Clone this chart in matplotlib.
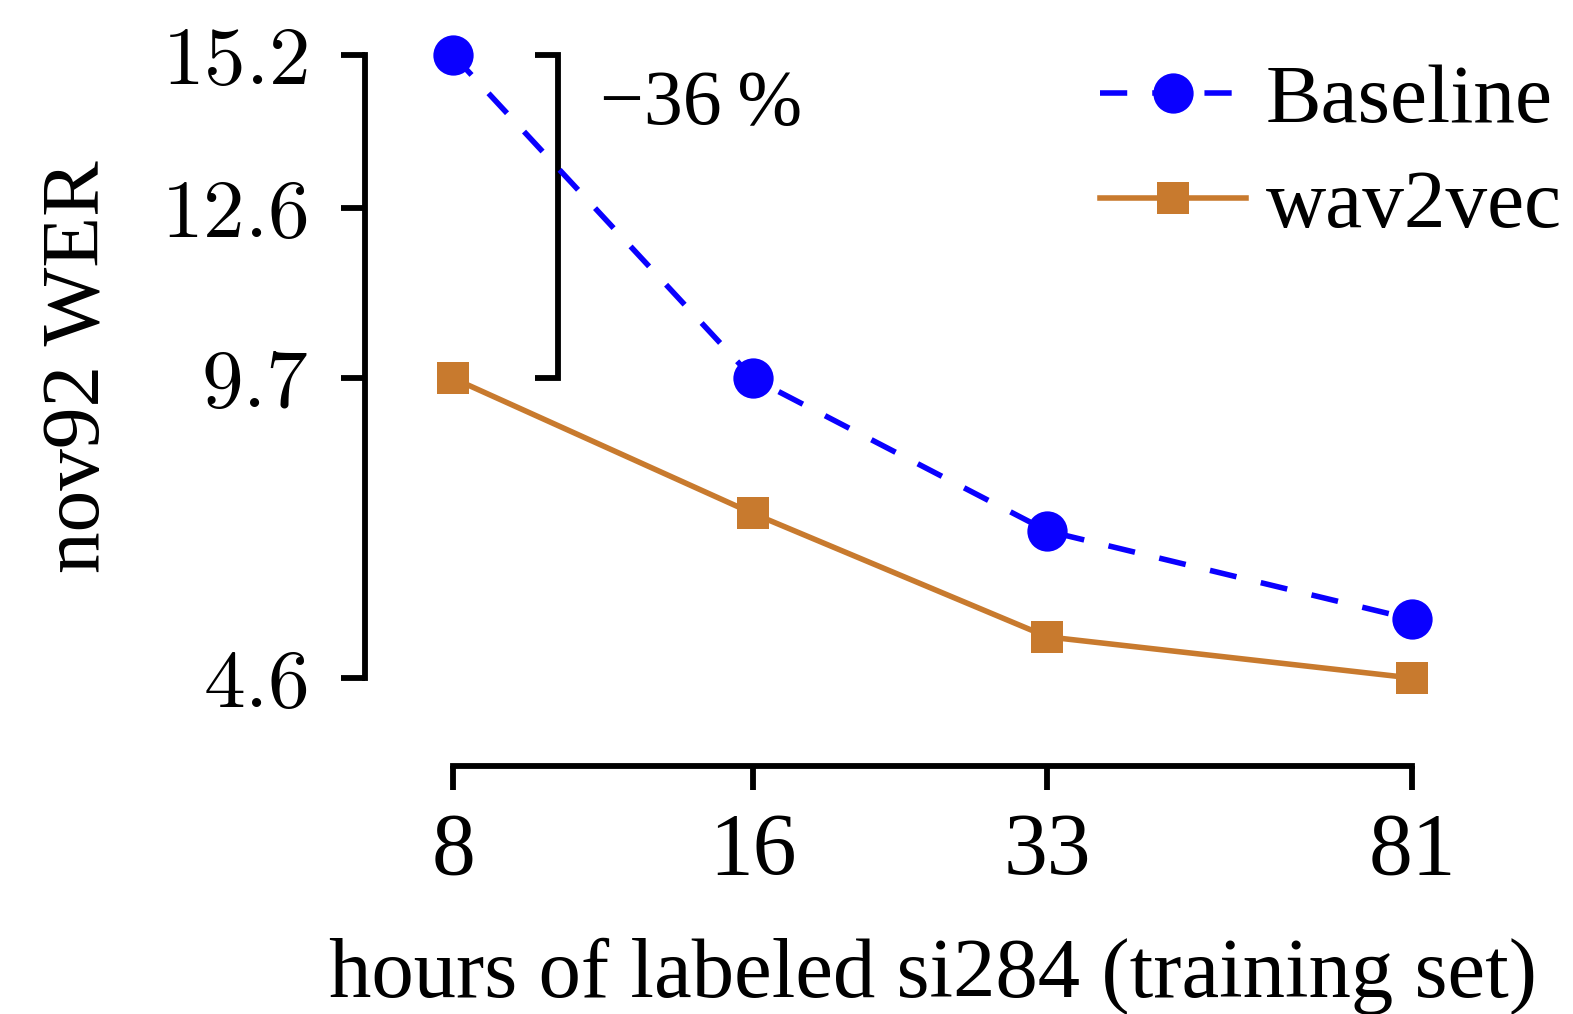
import matplotlib
matplotlib.use("Agg")
import matplotlib.pyplot as plt
from matplotlib.ticker import FixedLocator, NullLocator

plt.rcParams['font.family'] = ['Liberation Serif', 'DejaVu Serif']
plt.rcParams['mathtext.fontset'] = 'cm'

# ---- data ----
hours = [8, 16.5, 33.6, 81]
hour_labels = ["8", "16", "33", "81"]
baseline_wer = [15.2, 9.7, 7.1, 5.6]
wav2vec_wer = [9.7, 7.4, 5.3, 4.6]
yticks = [4.6, 9.7, 12.6, 15.2]
ytick_labels = ["$4.6$", "$9.7$", "$12.6$", "$15.2$"]
series_names = ["Baseline", "wav2vec"]

BLUE = "#0a00ff"
ORANGE = "#c87a2e"
FS = 60
SPW = 4.2

W, H = 1573, 1014
fig = plt.figure(figsize=(W / 100, H / 100), dpi=100)
ax = fig.add_axes([453 / W, 1 - 678 / H, 959 / W, 623 / H])

ax.plot(hours, baseline_wer, color=BLUE, lw=4.0, linestyle=(0, (4.9, 4.5)),
        marker='o', markersize=29, markeredgewidth=0, clip_on=False,
        label=series_names[0], zorder=3)
ax.plot(hours, wav2vec_wer, color=ORANGE, lw=4.0, linestyle='-',
        marker='s', markersize=23, markeredgewidth=0, clip_on=False,
        label=series_names[1], zorder=3)

ax.set_xscale('log')
ax.set_xlim(hours[0], hours[-1])
ax.set_ylim(min(yticks), max(yticks))
ax.xaxis.set_major_locator(FixedLocator(hours))
ax.xaxis.set_minor_locator(NullLocator())
ax.set_xticklabels(hour_labels)
ax.set_yticks(yticks)
ax.set_yticklabels(ytick_labels)

for s in ['top', 'right']:
    ax.spines[s].set_visible(False)
ax.spines['left'].set_position(('outward', 63.4))
ax.spines['bottom'].set_position(('outward', 63.4))
ax.spines['left'].set_bounds(min(yticks), max(yticks))
ax.spines['bottom'].set_bounds(hours[0], hours[-1])
for s in ['left', 'bottom']:
    ax.spines[s].set_linewidth(SPW)
    ax.spines[s].set_capstyle('projecting')

ax.tick_params(axis='y', length=17, width=SPW, pad=24, labelsize=FS)
ax.tick_params(axis='x', length=17, width=SPW, pad=16, labelsize=63)

ax.set_ylabel("nov92 WER", fontsize=FS)
ax.yaxis.set_label_coords(-0.35, 0.5)
ax.set_xlabel("hours of labeled si284 (training set)", fontsize=61)
ax.xaxis.set_label_coords(0.5, -0.416)

# bracket annotation
x_br, x_tick = 10.3, 9.75
y_top, y_bot = baseline_wer[0], wav2vec_wer[0]
ax.plot([x_tick, x_br, x_br, x_tick], [y_top, y_top, y_bot, y_bot],
        color='black', lw=SPW, clip_on=False, solid_capstyle='butt',
        solid_joinstyle='miter')
pct = round((wav2vec_wer[0] - baseline_wer[0]) / baseline_wer[0] * 100)
ax.text(11.41, 14.03, f"\u2212{abs(pct)}\u2009%", fontsize=56, ha='left',
        va='baseline')

leg = ax.legend(loc='upper left', bbox_to_anchor=(1100 / W, 1 - 64 / H),
                bbox_transform=fig.transFigure, frameon=False, fontsize=FS,
                borderpad=0, borderaxespad=0, handlelength=1.75,
                handletextpad=0.24, labelspacing=0.34)

fig.savefig("out.png", dpi=100)
